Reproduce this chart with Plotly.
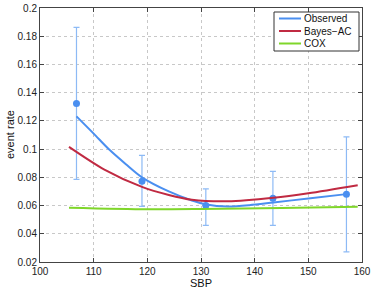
import plotly.graph_objects as go

# Observed binned event rates with error bars
obs_x = [106.8, 119.0, 130.9, 143.4, 157.1]
obs_y = [0.1324, 0.0773, 0.0600, 0.0652, 0.0681]
obs_hi = [0.1863, 0.0955, 0.0718, 0.0842, 0.1087]
obs_lo = [0.0785, 0.0594, 0.0459, 0.0459, 0.0272]

# Smoothed observed curve
obs_curve_x = [106.8, 110.0, 113.0, 116.0, 119.0, 124.0, 128.3, 131.0, 135.0, 139.0, 143.5, 150.0, 157.1]
obs_curve_y = [0.1232, 0.1110, 0.0993, 0.0893, 0.0800, 0.0700, 0.0636, 0.0608, 0.0594, 0.0603, 0.0622, 0.0650, 0.0681]

# Bayes-AC curve
bayes_x = [105.4, 112.0, 119.0, 124.0, 128.3, 135.0, 143.5, 150.0, 159.2]
bayes_y = [0.1016, 0.0855, 0.0732, 0.0675, 0.0641, 0.0630, 0.0655, 0.0687, 0.0744]

# COX curve
cox_x = [105.4, 120.0, 130.0, 145.0, 159.2]
cox_y = [0.0585, 0.0574, 0.0576, 0.0583, 0.0591]

series_names = ["Observed", "Bayes\u2212AC", "COX"]

xticks = [100, 110, 120, 130, 140, 150, 160]
yticks = [0.02, 0.04, 0.06, 0.08, 0.1, 0.12, 0.14, 0.16, 0.18, 0.2]
ytick_text = ["0.02", "0.04", "0.06", "0.08", "0.1", "0.12", "0.14", "0.16", "0.18", "0.2"]

BLUE = "#4a8ff0"
EBLUE = "#8dbaf5"
RED = "#c02a42"
GREEN = "#7fd62a"
colors = [BLUE, RED, GREEN]

fig = go.Figure()
fig.add_trace(go.Scatter(
    x=obs_x, y=obs_y, mode="markers", showlegend=False,
    marker=dict(color=BLUE, size=7),
    error_y=dict(type="data", symmetric=False,
                 array=[h - y for h, y in zip(obs_hi, obs_y)],
                 arrayminus=[y - l for l, y in zip(obs_lo, obs_y)],
                 color=EBLUE, thickness=1.2, width=3),
))
fig.add_trace(go.Scatter(x=obs_curve_x, y=obs_curve_y, mode="lines", name=series_names[0],
                         showlegend=False,
                         line=dict(color=BLUE, width=2, shape="spline", smoothing=0.8)))
fig.add_trace(go.Scatter(x=bayes_x, y=bayes_y, mode="lines", name=series_names[1],
                         showlegend=False,
                         line=dict(color=RED, width=2, shape="spline", smoothing=0.8)))
fig.add_trace(go.Scatter(x=cox_x, y=cox_y, mode="lines", name=series_names[2],
                         showlegend=False,
                         line=dict(color=GREEN, width=2, shape="spline", smoothing=0.8)))

axis_common = dict(showline=True, linecolor="#444", linewidth=1, mirror="ticks",
                   ticks="inside", ticklen=4, tickcolor="#444", automargin=False,
                   showgrid=True, gridcolor="#c8c8c8", griddash="dot", gridwidth=1,
                   zeroline=False, tickfont=dict(size=10, color="#222"))

# Compact legend box (MATLAB style), in paper coordinates
W, H = 374, 290
L, R, T, B = 40, 12, 8, 28
pw, ph = W - L - R, H - T - B
def px(xp):
    return (xp - L) / pw
def py(yp):
    return 1 - (yp - T) / ph

shapes = [dict(type="rect", xref="paper", yref="paper",
               x0=px(274), x1=px(359), y0=py(51), y1=py(12),
               line=dict(color="#333", width=1), fillcolor="white", layer="above")]
annotations = []
for i, (nm, c) in enumerate(zip(series_names, colors)):
    yc = 18.5 + i * 12.5
    shapes.append(dict(type="line", xref="paper", yref="paper",
                       x0=px(279), x1=px(301), y0=py(yc), y1=py(yc),
                       line=dict(color=c, width=2), layer="above"))
    annotations.append(dict(xref="paper", yref="paper", x=px(302), y=py(yc),
                            xanchor="left", yanchor="middle", text=nm, showarrow=False,
                            font=dict(size=10, color="#111")))

annotations.append(dict(xref="paper", yref="paper", x=0.5, y=py(283),
                        xanchor="center", yanchor="middle", text="SBP", showarrow=False,
                        font=dict(size=11, color="#111")))
annotations.append(dict(xref="paper", yref="paper", x=px(10), y=0.5, textangle=-90,
                        xanchor="center", yanchor="middle", text="event rate", showarrow=False,
                        font=dict(size=11, color="#111")))

fig.update_layout(
    width=W, height=H,
    margin=dict(l=L, r=R, t=T, b=B, autoexpand=False),
    paper_bgcolor="white", plot_bgcolor="white",
    font=dict(family="Liberation Sans, Arial, sans-serif", size=10, color="#222"),
    xaxis=dict(range=[100, 160], tickvals=xticks, **axis_common),
    yaxis=dict(range=[0.02, 0.2], tickvals=yticks, ticktext=ytick_text, **axis_common),
    shapes=shapes, annotations=annotations,
    showlegend=False,
)

fig.write_html("out.html", config={"displayModeBar": False},
               post_script="document.body.style.margin='0';document.body.style.overflow='hidden';")
